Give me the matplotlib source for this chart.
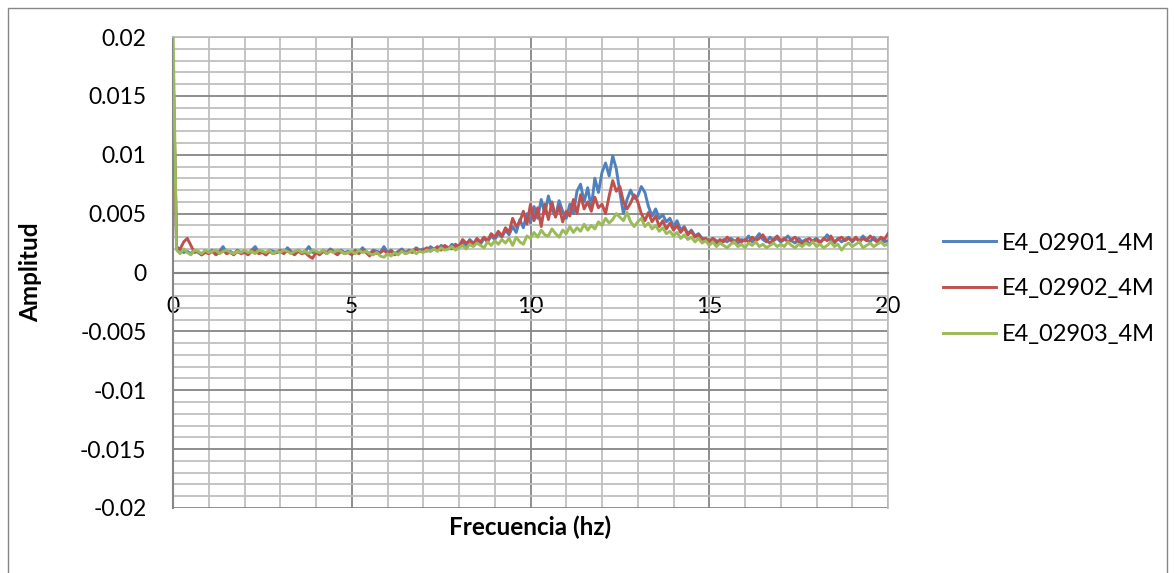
import numpy as np
import matplotlib
matplotlib.use("Agg")
import matplotlib.pyplot as plt
from matplotlib.ticker import MultipleLocator, FixedLocator, FixedFormatter
from matplotlib.patches import Rectangle

# ---------------- data ----------------
freq_hz = [round(i * 0.1, 1) for i in range(201)]

e4_02901_4m = [
    0.0178, 0.0022, 0.0019, 0.0017, 0.0018, 0.0016, 0.0019, 0.0017, 0.0015, 0.0018,
    0.0017, 0.0019, 0.0016, 0.0018, 0.0022, 0.0017, 0.0018, 0.0016, 0.0019, 0.0017,
    0.0018, 0.0016, 0.0019, 0.0022, 0.0017, 0.0018, 0.0015, 0.0019, 0.0018, 0.0017,
    0.0019, 0.0017, 0.0021, 0.0018, 0.0016, 0.0019, 0.0017, 0.0018, 0.0022, 0.0017,
    0.0018, 0.0016, 0.0019, 0.0017, 0.0020, 0.0018, 0.0016, 0.0019, 0.0017, 0.0018,
    0.0016, 0.0019, 0.0017, 0.0021, 0.0018, 0.0016, 0.0019, 0.0018, 0.0017, 0.0022,
    0.0017, 0.0019, 0.0016, 0.0018, 0.0020, 0.0017, 0.0019, 0.0018, 0.0021, 0.0019,
    0.0020, 0.0018, 0.0022, 0.0020, 0.0019, 0.0023, 0.0021, 0.0020, 0.0024, 0.0022,
    0.0023, 0.0026, 0.0022, 0.0028, 0.0025, 0.0027, 0.0024, 0.0029, 0.0026, 0.0031,
    0.0028, 0.0033, 0.0030, 0.0036, 0.0032, 0.0039, 0.0034, 0.0045, 0.0038, 0.0050,
    0.0042, 0.0056, 0.0046, 0.0062, 0.0050, 0.0065, 0.0053, 0.0048, 0.0061, 0.0052,
    0.0046, 0.0058, 0.0050, 0.0069, 0.0075, 0.0060, 0.0072, 0.0055, 0.0080, 0.0068,
    0.0085, 0.0093, 0.0082, 0.0099, 0.0088, 0.0068, 0.0050, 0.0062, 0.0070, 0.0063,
    0.0065, 0.0073, 0.0068, 0.0056, 0.0048, 0.0054, 0.0046, 0.0049, 0.0043, 0.0046,
    0.0039, 0.0044, 0.0036, 0.0039, 0.0033, 0.0036, 0.0031, 0.0033, 0.0029, 0.0028,
    0.0026, 0.0029, 0.0027, 0.0025, 0.0028, 0.0026, 0.0029, 0.0027, 0.0025, 0.0028,
    0.0027, 0.0031, 0.0026, 0.0029, 0.0033, 0.0028, 0.0026, 0.0030, 0.0027, 0.0029,
    0.0026, 0.0028, 0.0031, 0.0027, 0.0025, 0.0029, 0.0026, 0.0028, 0.0024, 0.0027,
    0.0029, 0.0026, 0.0028, 0.0032, 0.0027, 0.0025, 0.0029, 0.0026, 0.0028, 0.0030,
    0.0026, 0.0029, 0.0027, 0.0031, 0.0028, 0.0026, 0.0030, 0.0027, 0.0029, 0.0026,
    0.0027,
]

e4_02902_4m = [
    0.0180, 0.0021, 0.0020, 0.0026, 0.0029, 0.0023, 0.0017, 0.0018, 0.0015, 0.0017,
    0.0016, 0.0018, 0.0015, 0.0017, 0.0019, 0.0016, 0.0017, 0.0015, 0.0018, 0.0016,
    0.0017, 0.0015, 0.0018, 0.0019, 0.0016, 0.0017, 0.0015, 0.0018, 0.0016, 0.0017,
    0.0018, 0.0016, 0.0019, 0.0017, 0.0015, 0.0018, 0.0016, 0.0017, 0.0014, 0.0012,
    0.0017, 0.0015, 0.0018, 0.0016, 0.0019, 0.0017, 0.0015, 0.0018, 0.0016, 0.0017,
    0.0015, 0.0018, 0.0016, 0.0019, 0.0017, 0.0014, 0.0018, 0.0016, 0.0017, 0.0019,
    0.0016, 0.0018, 0.0015, 0.0017, 0.0019, 0.0016, 0.0018, 0.0017, 0.0020, 0.0018,
    0.0019, 0.0021, 0.0018, 0.0020, 0.0022, 0.0019, 0.0023, 0.0021, 0.0020, 0.0024,
    0.0022, 0.0028, 0.0025, 0.0027, 0.0024, 0.0029, 0.0026, 0.0030, 0.0027, 0.0033,
    0.0030, 0.0035, 0.0031, 0.0038, 0.0034, 0.0046, 0.0039, 0.0043, 0.0052, 0.0041,
    0.0058, 0.0044, 0.0055, 0.0039, 0.0058, 0.0045, 0.0060, 0.0047, 0.0056, 0.0043,
    0.0052, 0.0048, 0.0062, 0.0050, 0.0066, 0.0054, 0.0060, 0.0052, 0.0064, 0.0055,
    0.0058, 0.0050, 0.0065, 0.0078, 0.0069, 0.0073, 0.0060, 0.0054, 0.0059, 0.0066,
    0.0060, 0.0050, 0.0044, 0.0051, 0.0043, 0.0048, 0.0039, 0.0044, 0.0037, 0.0042,
    0.0036, 0.0040, 0.0034, 0.0038, 0.0032, 0.0035, 0.0030, 0.0032, 0.0028, 0.0029,
    0.0026, 0.0029, 0.0025, 0.0028, 0.0026, 0.0030, 0.0027, 0.0025, 0.0029, 0.0026,
    0.0028, 0.0026, 0.0030, 0.0027, 0.0029, 0.0032, 0.0027, 0.0025, 0.0028, 0.0031,
    0.0027, 0.0029, 0.0026, 0.0028, 0.0030, 0.0026, 0.0024, 0.0027, 0.0029, 0.0026,
    0.0028, 0.0025, 0.0029, 0.0027, 0.0031, 0.0026, 0.0028, 0.0030, 0.0027, 0.0029,
    0.0027, 0.0030, 0.0026, 0.0029, 0.0027, 0.0031, 0.0028, 0.0026, 0.0030, 0.0028,
    0.0033,
]

e4_02903_4m = [
    0.0210, 0.0019, 0.0016, 0.0020, 0.0017, 0.0015, 0.0019, 0.0018, 0.0016, 0.0019,
    0.0017, 0.0018, 0.0019, 0.0016, 0.0018, 0.0019, 0.0017, 0.0016, 0.0018, 0.0017,
    0.0019, 0.0017, 0.0018, 0.0016, 0.0019, 0.0018, 0.0017, 0.0019, 0.0016, 0.0018,
    0.0017, 0.0019, 0.0018, 0.0016, 0.0018, 0.0019, 0.0017, 0.0018, 0.0016, 0.0019,
    0.0018, 0.0017, 0.0019, 0.0016, 0.0018, 0.0017, 0.0019, 0.0018, 0.0016, 0.0017,
    0.0018, 0.0016, 0.0019, 0.0017, 0.0018, 0.0016, 0.0015, 0.0017, 0.0014, 0.0013,
    0.0016, 0.0014, 0.0017, 0.0015, 0.0018, 0.0016, 0.0017, 0.0019, 0.0016, 0.0018,
    0.0017, 0.0019, 0.0018, 0.0020, 0.0018, 0.0021, 0.0019, 0.0020, 0.0022, 0.0019,
    0.0021, 0.0023, 0.0020, 0.0024, 0.0022, 0.0025, 0.0023, 0.0021, 0.0026, 0.0023,
    0.0027, 0.0024, 0.0028, 0.0025, 0.0029, 0.0023, 0.0030, 0.0026, 0.0024, 0.0031,
    0.0029, 0.0034, 0.0030, 0.0036, 0.0032, 0.0031, 0.0037, 0.0033, 0.0030, 0.0036,
    0.0033, 0.0039, 0.0034, 0.0038, 0.0035, 0.0041, 0.0036, 0.0040, 0.0037, 0.0043,
    0.0040, 0.0046, 0.0042, 0.0045, 0.0050, 0.0047, 0.0044, 0.0051, 0.0043, 0.0039,
    0.0043, 0.0046, 0.0039, 0.0042, 0.0037, 0.0040, 0.0035, 0.0038, 0.0033, 0.0035,
    0.0031, 0.0034, 0.0029, 0.0032, 0.0028, 0.0030, 0.0026, 0.0029, 0.0025, 0.0027,
    0.0023, 0.0026, 0.0022, 0.0025, 0.0023, 0.0021, 0.0024, 0.0026, 0.0022, 0.0024,
    0.0021, 0.0025, 0.0023, 0.0026, 0.0022, 0.0024, 0.0021, 0.0023, 0.0025, 0.0022,
    0.0024, 0.0022, 0.0026, 0.0023, 0.0021, 0.0024, 0.0022, 0.0025, 0.0023, 0.0026,
    0.0022, 0.0024, 0.0021, 0.0023, 0.0026, 0.0022, 0.0024, 0.0019, 0.0023, 0.0025,
    0.0022, 0.0024, 0.0026, 0.0021, 0.0023, 0.0025, 0.0022, 0.0024, 0.0026, 0.0023,
    0.0024,
]

series_names = ["E4_02901_4M", "E4_02902_4M", "E4_02903_4M"]
series_colors = ["#4F81BD", "#C0504D", "#9BBB59"]

xtick_values = [0, 5, 10, 15, 20]
xtick_labels = ["0", "5", "10", "15", "20"]
ytick_values = [-0.02, -0.015, -0.01, -0.005, 0, 0.005, 0.01, 0.015, 0.02]
ytick_labels = ["-0.02", "-0.015", "-0.01", "-0.005", "0", "0.005", "0.01", "0.015", "0.02"]

x_label = "Frecuencia (hz)"
y_label = "Amplitud"

# ---------------- figure ----------------
plt.rcParams["font.family"] = ["Lato", "DejaVu Sans"]
W, H = 1175, 573
fig = plt.figure(figsize=(W / 100, H / 100), dpi=100)
fig.patch.set_facecolor("white")

ax = fig.add_axes([173 / W, 1 - 508 / H, (888 - 173) / W, (508 - 37) / H])
ax.set_xlim(0, 20)
ax.set_ylim(-0.02, 0.02)

major_col = "#868686"
minor_col = "#BFBFBF"
tick_fs = 16.5

ax.xaxis.set_major_locator(FixedLocator(xtick_values))
ax.xaxis.set_major_formatter(FixedFormatter(xtick_labels))
ax.xaxis.set_minor_locator(MultipleLocator(1))
ax.yaxis.set_major_locator(FixedLocator(ytick_values))
ax.yaxis.set_major_formatter(FixedFormatter(ytick_labels))
ax.yaxis.set_minor_locator(MultipleLocator(0.001))

ax.grid(which="minor", color=minor_col, linewidth=1.3, zorder=0)
ax.grid(which="major", color=major_col, linewidth=1.3, zorder=0)
ax.set_axisbelow(True)

for s in ["top", "right"]:
    ax.spines[s].set_color(minor_col)
    ax.spines[s].set_linewidth(1.3)
ax.spines["left"].set_color(major_col)
ax.spines["left"].set_linewidth(1.5)
ax.spines["bottom"].set_position(("data", 0))
ax.spines["bottom"].set_color(major_col)
ax.spines["bottom"].set_linewidth(1.5)

ax.tick_params(axis="both", which="both", length=0)
ax.tick_params(axis="x", which="major", pad=17, labelsize=tick_fs)
ax.tick_params(axis="y", which="major", pad=19, labelsize=tick_fs)

lines = []
for vals, name, col in zip([e4_02901_4m, e4_02902_4m, e4_02903_4m], series_names, series_colors):
    (ln,) = ax.plot(freq_hz, vals, color=col, linewidth=2.1, label=name, zorder=3)
    lines.append(ln)

fig.text(530 / W, 1 - 527 / H, x_label, ha="center", va="center",
         fontsize=17.5, fontweight="bold")
fig.text(31 / W, 1 - 272 / H, y_label, ha="center", va="center",
         fontsize=17.5, fontweight="bold", rotation=90)

fig.legend(handles=lines, loc="center left", bbox_to_anchor=(943 / W, 1 - 289 / H),
           bbox_transform=fig.transFigure, frameon=False, fontsize=17,
           handlelength=2.25, handletextpad=0.25, labelspacing=1.05,
           borderpad=0, borderaxespad=0)

fig.patches.append(Rectangle((8 / W, -10 / H), (1167 - 8) / W, (565 + 10) / H,
                             transform=fig.transFigure, fill=False,
                             edgecolor=major_col, linewidth=1.0))

fig.savefig("out.png", dpi=100, facecolor="white")
